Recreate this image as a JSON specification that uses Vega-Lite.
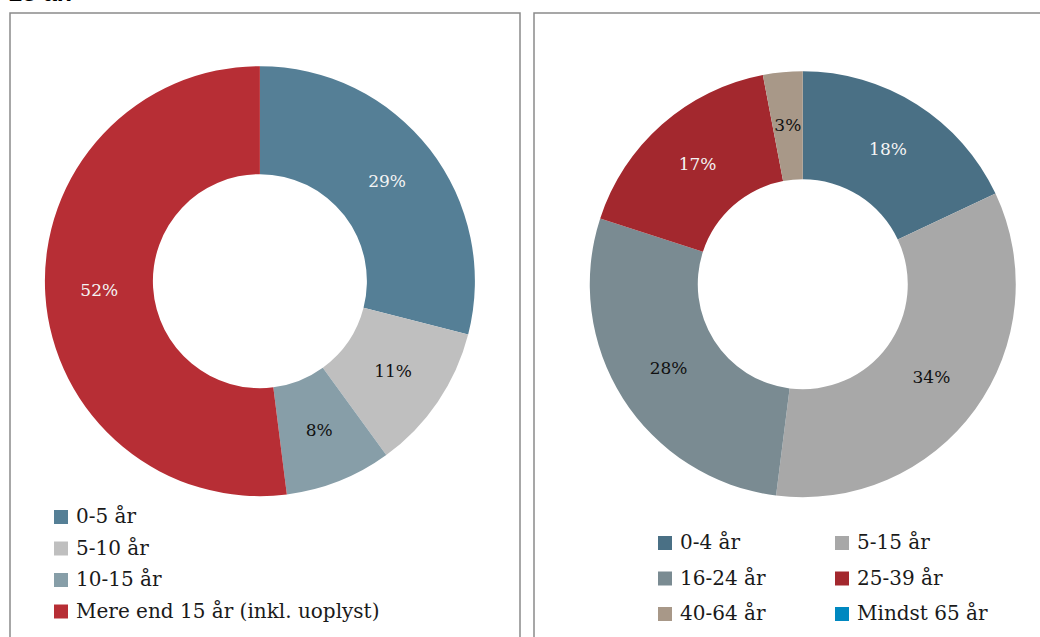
{
  "$schema": "https://vega.github.io/schema/vega-lite/v6.json",
  "padding": {"left": 9, "top": -19, "right": 0, "bottom": 0},
  "autosize": {"type": "pad"},
  "background": "white",
  "spacing": 12,
  "title": {"text": "15 år.", "anchor": "start", "frame": "bounds", "font": "Liberation Sans", "fontSize": 25, "fontStyle": "italic", "fontWeight": "bold", "color": "#000000", "offset": 6},
  "resolve": {"scale": {"color": "independent"}, "legend": {"color": "independent"}},
  "config": {
    "view": {"stroke": "#8a8a8a", "strokeWidth": 1.5},
    "font": "DejaVu Serif",
    "legend": {
      "title": null,
      "labelFont": "DejaVu Serif",
      "labelFontSize": 20,
      "labelColor": "#1a1a1a",
      "symbolType": "square",
      "symbolSize": 196,
      "symbolStrokeWidth": 0,
      "labelOffset": 5,
      "padding": 0,
      "rowPadding": 11.5,
      "labelLimit": 400
    }
  },
  "hconcat": [
    {
      "width": 510,
      "height": 625,
      "data": {"values": [
        {"cat": "0-5 år", "v": 0.29, "i": 1},
        {"cat": "5-10 år", "v": 0.11, "i": 2},
        {"cat": "10-15 år", "v": 0.08, "i": 3},
        {"cat": "Mere end 15 år (inkl. uoplyst)", "v": 0.52, "i": 4}
      ]},
      "encoding": {
        "x": {"datum": 0.49, "type": "quantitative", "scale": {"domain": [0, 1]}, "axis": null},
        "y": {"datum": 0.429, "type": "quantitative", "scale": {"domain": [0, 1], "reverse": true}, "axis": null}
      },
      "layer": [
        {
          "mark": {"type": "arc", "outerRadius": 215, "innerRadius": 107},
          "encoding": {
            "theta": {"field": "v", "type": "quantitative", "stack": true},
            "order": {"field": "i", "type": "quantitative"},
            "color": {
              "field": "cat", "type": "nominal",
              "sort": ["0-5 år", "5-10 år", "10-15 år", "Mere end 15 år (inkl. uoplyst)"],
              "scale": {"domain": ["0-5 år", "5-10 år", "10-15 år", "Mere end 15 år (inkl. uoplyst)"], "range": ["#557f96", "#bfbfbf", "#879ea8", "#b72e35"]},
              "legend": {"orient": "none", "legendX": 41, "legendY": 494, "direction": "vertical"}
            }
          }
        },
        {
          "mark": {"type": "text", "radius": 161, "fontSize": 17},
          "encoding": {
            "theta": {"field": "v", "type": "quantitative", "stack": true},
            "order": {"field": "i", "type": "quantitative"},
            "detail": {"field": "cat", "type": "nominal"},
            "text": {"field": "v", "type": "quantitative", "format": ".0%"},
            "color": {"condition": {"test": "indexof(['0-5 år','Mere end 15 år (inkl. uoplyst)'], datum.cat) >= 0", "value": "#f4f4f4"}, "value": "#111111"}
          }
        }
      ]
    },
    {
      "width": 510,
      "height": 625,
      "data": {"values": [
        {"cat": "0-4 år", "v": 0.18, "i": 1},
        {"cat": "5-15 år", "v": 0.34, "i": 2},
        {"cat": "16-24 år", "v": 0.28, "i": 3},
        {"cat": "25-39 år", "v": 0.17, "i": 4},
        {"cat": "40-64 år", "v": 0.03, "i": 5},
        {"cat": "Mindst 65 år", "v": 0.0, "i": 6}
      ]},
      "encoding": {
        "x": {"datum": 0.527, "type": "quantitative", "scale": {"domain": [0, 1]}, "axis": null},
        "y": {"datum": 0.434, "type": "quantitative", "scale": {"domain": [0, 1], "reverse": true}, "axis": null}
      },
      "layer": [
        {
          "mark": {"type": "arc", "outerRadius": 213, "innerRadius": 105},
          "encoding": {
            "theta": {"field": "v", "type": "quantitative", "stack": true},
            "order": {"field": "i", "type": "quantitative"},
            "color": {
              "field": "cat", "type": "nominal",
              "sort": ["0-4 år", "16-24 år", "40-64 år", "5-15 år", "25-39 år", "Mindst 65 år"],
              "scale": {"domain": ["0-4 år", "16-24 år", "40-64 år", "5-15 år", "25-39 år", "Mindst 65 år"], "range": ["#4a7085", "#7a8b92", "#a89888", "#a8a8a8", "#a3282e", "#0088c0"]},
              "legend": {"orient": "none", "legendX": 121, "legendY": 520, "columns": 2, "columnPadding": 66, "rowPadding": 15.5}
            }
          }
        },
        {
          "transform": [{"filter": "datum.v > 0"}],
          "mark": {"type": "text", "radius": 159, "fontSize": 17},
          "encoding": {
            "theta": {"field": "v", "type": "quantitative", "stack": true},
            "order": {"field": "i", "type": "quantitative"},
            "detail": {"field": "cat", "type": "nominal"},
            "text": {"field": "v", "type": "quantitative", "format": ".0%"},
            "color": {"condition": {"test": "indexof(['0-4 år','25-39 år'], datum.cat) >= 0", "value": "#f4f4f4"}, "value": "#111111"}
          }
        }
      ]
    }
  ]
}
